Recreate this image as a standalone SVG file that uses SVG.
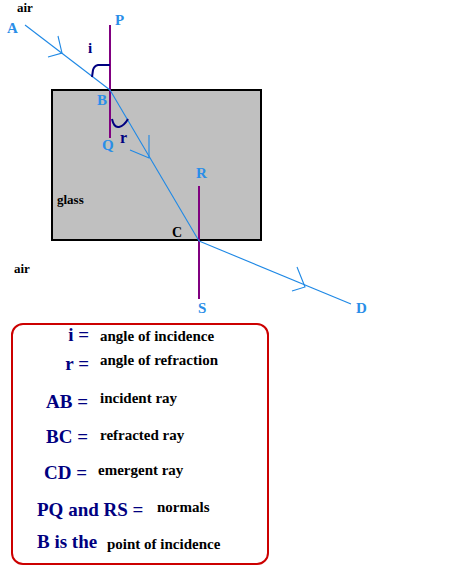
<svg xmlns="http://www.w3.org/2000/svg" width="470" height="576" viewBox="0 0 470 576">
<style>
text{font-family:"Liberation Serif","Times New Roman",Tinos,"DejaVu Serif",serif;font-weight:bold}
.ray{stroke:#1e88e5;stroke-width:1.1;fill:none}
.normal{stroke:#800080;stroke-width:2;fill:none}
.mark{stroke:#000080;stroke-width:2;fill:none}
.lbl{font-size:15px;fill:#2a8ee8}
.blk{font-size:13px;fill:#000}
.nv{font-size:19px;fill:#000080}
.def{font-size:15px;fill:#000}
</style>
<rect width="470" height="576" fill="#fff"/>
<g id="glass">
<rect x="52" y="90" width="209" height="150" fill="#c0c0c0" stroke="#000" stroke-width="2"/>
<text class="blk" x="57" y="204">glass</text>
</g>
<g id="connectors">
<line class="normal" x1="110" y1="25" x2="110" y2="138"/>
<line class="normal" x1="199" y1="186" x2="199" y2="299"/>
<line class="ray" x1="25" y1="25" x2="110" y2="90"/>
<line class="ray" x1="110" y1="90" x2="199" y2="241"/>
<line class="ray" x1="199" y1="241" x2="351" y2="304"/>
<path class="ray" d="M58,36 L62,53 L48,57"/>
<path class="ray" d="M149,135 L149,158 L130,150"/>
<path class="ray" d="M297,267 L305,287 L292,291"/>
<path class="mark" d="M110,65 H98 Q94,66 93,70 L92,77"/>
<path class="mark" d="M112,119 Q114,128 119,127 Q124,126 128,119"/>
</g>
<g id="labels">
<text class="blk" x="17" y="12">air</text>
<text class="blk" x="14" y="273">air</text>
<text class="lbl" x="7" y="33">A</text>
<text class="lbl" x="115" y="25">P</text>
<text class="lbl" x="97" y="105">B</text>
<text class="lbl" x="102" y="150">Q</text>
<text class="lbl" x="196" y="178">R</text>
<text class="lbl" x="198" y="313">S</text>
<text class="lbl" x="356" y="313">D</text>
<text class="blk" x="172" y="237" style="font-size:14px">C</text>
<text class="nv" x="88" y="53" style="font-size:15px">i</text>
<text class="nv" x="120" y="143" style="font-size:16px">r</text>
</g>
<g id="legend">
<rect x="12" y="324" width="256" height="240" rx="11" fill="#fff" stroke="#cc0000" stroke-width="2"/>
<text class="nv" x="89" y="341" text-anchor="end">i =</text>
<text class="def" x="100" y="341">angle of incidence</text>
<text class="nv" x="89" y="370" text-anchor="end">r =</text>
<text class="def" x="100" y="365">angle of refraction</text>
<text class="nv" x="88" y="408" text-anchor="end">AB =</text>
<text class="def" x="100" y="403">incident ray</text>
<text class="nv" x="88" y="443" text-anchor="end">BC =</text>
<text class="def" x="100" y="440">refracted ray</text>
<text class="nv" x="87" y="479" text-anchor="end">CD =</text>
<text class="def" x="98" y="475">emergent ray</text>
<text class="nv" x="37" y="516">PQ and RS =</text>
<text class="def" x="157" y="512">normals</text>
<text class="nv" x="37" y="548">B is the</text>
<text class="def" x="107" y="549">point of incidence</text>
</g>
</svg>
